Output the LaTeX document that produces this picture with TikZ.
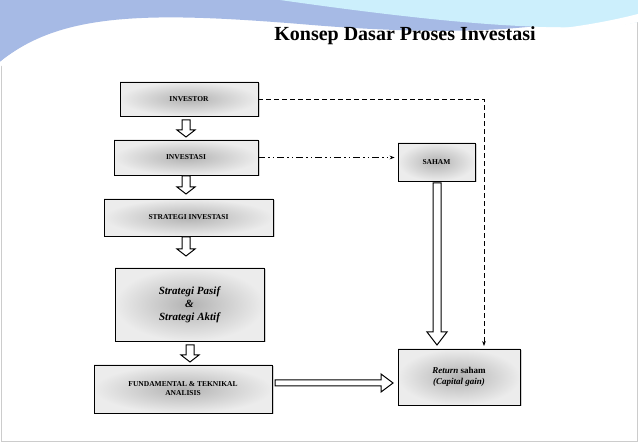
\documentclass[tikz,border=0pt]{standalone}
\usepackage{fontspec}
\setmainfont{Liberation Serif}
\usetikzlibrary{calc,arrows.meta,shadows}
\newcommand{\hdown}[3]{% x, ytop, ybot
 \draw[line width=1pt,fill=white] (#1-4,#2) -- (#1+4,#2) -- (#1+4,#3+7) -- (#1+9,#3+7) -- (#1,#3) -- (#1-9,#3+7) -- (#1-4,#3+7) -- cycle;}
\begin{document}
\begin{tikzpicture}[x=1pt,y=1pt,
 box/.style={draw,line width=0.8pt,inner color=gray!60,outer color=gray!15,drop shadow={opacity=0.35,shadow xshift=1.5pt,shadow yshift=-1.5pt},font=\bfseries\fontsize{7.5}{9}\selectfont,align=center}]
\useasboundingbox (0,0) rectangle (638,442);
\fill[white] (0,0) rectangle (638,442);
\draw[gray!40] (1,1) rectangle (637,441);
% swoosh
\fill[cyan!45!blue!35] (0,442) -- (0,380) .. controls (60,430) and (150,430) .. (300,418) .. controls (450,405) and (560,410) .. (638,438) -- (638,442) -- cycle;
\fill[cyan!20] (280,442) .. controls (400,425) and (560,405) .. (638,420) -- (638,442) -- cycle;
\fill[white] (0,380) .. controls (60,428) and (150,427) .. (300,415) .. controls (420,402) and (540,403) .. (638,428) -- (638,420) .. controls (540,398) and (420,398) .. (300,410) .. controls (150,420) and (60,420) .. (0,375) -- cycle;
\node[font=\bfseries\fontsize{20}{23}\selectfont] (title) at (405,406) {Konsep Dasar Proses Investasi};
% boxes
\node[box,minimum width=138,minimum height=34] (inv) at (189,343) {INVESTOR};
\node[box,minimum width=144,minimum height=35] (ivs) at (186,284.5) {INVESTASI};
\node[box,minimum width=169,minimum height=37] (str) at (188.5,224.5) {STRATEGI INVESTASI};
\node[box,minimum width=149,minimum height=73,font=\bfseries\itshape\fontsize{11}{13}\selectfont] (pa) at (189.5,137.5) {Strategi Pasif\\\&\\Strategi Aktif};
\node[box,minimum width=178,minimum height=48] (fun) at (183,53) {FUNDAMENTAL \& TEKNIKAL\\ANALISIS};
\node[box,minimum width=77,minimum height=38] (sah) at (436.5,280) {SAHAM};
\node[box,minimum width=122,minimum height=56,font=\bfseries\fontsize{9}{11}\selectfont] (ret) at (459,65) {\textit{Return} saham\\\textit{(Capital gain)}};
% small hollow arrows
\hdown{186}{322}{305}
\hdown{186}{266}{248}
\hdown{186}{205}{186}
\hdown{190}{97}{80}
% dashed
\draw[dash pattern=on 5pt off 3pt,line width=0.9pt,-{Stealth[length=5pt]}] (inv.east) -- (484,343) -- (484,96);
\draw[dash pattern=on 7pt off 3pt on 1.5pt off 3pt on 1.5pt off 3pt,line width=0.9pt,-{Stealth[length=5pt]}] (ivs.east) -- ($(sah.west)+(-3,4.5)$);
% big hollow down arrow
\draw[line width=1pt,fill=white] (433,259) -- (441,259) -- (441,110) -- (447,110) -- (437,97) -- (427,110) -- (433,110) -- cycle;
% big hollow right arrow
\draw[line width=1pt,fill=white] (275,62) -- (381,62) -- (381,68) -- (393,59) -- (381,50) -- (381,56) -- (275,56) -- cycle;
\end{tikzpicture}
\end{document}
